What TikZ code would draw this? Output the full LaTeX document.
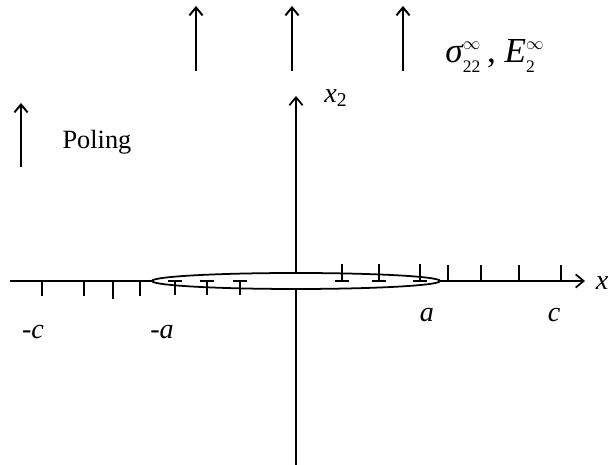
\documentclass[tikz,border=0pt]{standalone}
\usepackage{fontspec}
\setmainfont{Liberation Serif}
\usetikzlibrary{arrows.meta,shapes.geometric}
\newcommand{\smallidx}[1]{\mbox{\fontsize{10}{10}\selectfont #1}}
\begin{document}
\begin{tikzpicture}[x=0.02cm, y=-0.02cm, line width=1pt,
                    >={Straight Barb[length=4.5pt,width=7.5pt]},
                    end label/.style={font=\fontsize{16}{18}\selectfont\itshape, inner sep=0pt},
                    load arrow/.style={->, line width=1.1pt}]
  \useasboundingbox (0,0) rectangle (610,465);

  % axes
  \coordinate (xl) at (10,281);
  \coordinate (xr) at (585,281);
  \coordinate (yb) at (296,465);
  \coordinate (yt) at (296,96);
  \draw[->] (xl) -- (xr);
  \draw[->] (yb) -- (yt);
  \node[end label, anchor=west] (x) at (595,283) {x};
  \node[end label] (x2) at (336,98) {x\textsubscript{\upshape 2}};

  % crack
  \node[ellipse, draw, fill=white, minimum width=5.76cm, minimum height=0.32cm,
        inner sep=0pt] (crack) at (296,281) {};

  % ticks
  \draw (42,281) -- (42,296) (84,281) -- (84,296) (113,281) -- (113,299) (140,281) -- (140,296);
  \draw (448,281) -- (448,265) (481,281) -- (481,265) (519,281) -- (519,265) (561,281) -- (561,265);

  % dislocations
  \draw (168,281) -- (182,281) (175,281) -- (175,295);
  \draw (200,281) -- (214,281) (207,281) -- (207,295);
  \draw (233,281) -- (247,281) (240,281) -- (240,295);
  \draw (335,281) -- (349,281) (342,281) -- (342,264);
  \draw (372,281) -- (386,281) (379,281) -- (379,264);
  \draw (413,281) -- (427,281) (420,281) -- (420,264);

  \node[end label] (mc) at (33,332) {-c};
  \node[end label] (ma) at (162,332) {-a};
  \node[end label] (pa) at (427,315) {a};
  \node[end label] (pc) at (554,315) {c};

  % far field
  \coordinate (s1) at (196,71); \coordinate (t1) at (196,6);
  \coordinate (s2) at (292,71); \coordinate (t2) at (292,6);
  \coordinate (s3) at (403,71); \coordinate (t3) at (403,6);
  \draw[load arrow] (s1) -- (t1);
  \draw[load arrow] (s2) -- (t2);
  \draw[load arrow] (s3) -- (t3);
  \node[font=\fontsize{20}{22}\selectfont, inner sep=0pt] (load) at (495,56)
    {$\mbox{\itshape σ}_{\smallidx{22}}^{\scriptscriptstyle\infty}$\,, $\mbox{\itshape E}_{\smallidx{2}}^{\scriptscriptstyle\infty}$};

  % poling
  \coordinate (p1) at (21,167);
  \coordinate (p2) at (21,103);
  \draw[load arrow] (p1) -- (p2);
  \node[font=\fontsize{15}{17}\selectfont, inner sep=0pt] (poling) at (97,142) {Poling};
\end{tikzpicture}
\end{document}
